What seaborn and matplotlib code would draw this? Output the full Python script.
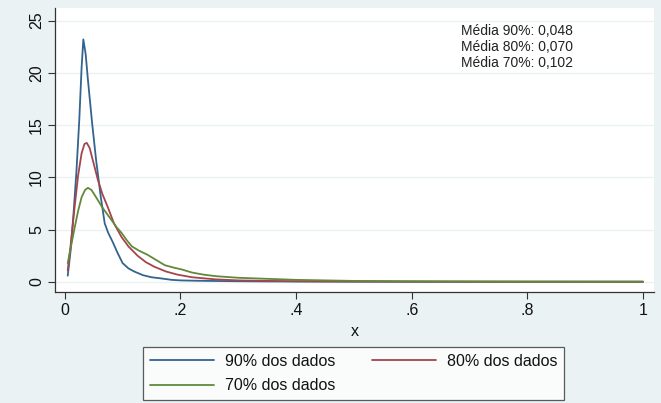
import numpy as np
import pandas as pd
import matplotlib
matplotlib.use("Agg")
import matplotlib.pyplot as plt
import seaborn as sns

# --------------------------------------------------------------
# Data
# --------------------------------------------------------------

series_names = ["90% dos dados", "80% dos dados", "70% dos dados"]
series_colors = ["#33648f", "#a5444c", "#62883b"]

x_90 = [0.005, 0.010, 0.015, 0.020, 0.025, 0.029, 0.032, 0.036, 0.040, 0.047,
        0.054, 0.062, 0.069, 0.075, 0.083, 0.091, 0.100, 0.110, 0.120, 0.135,
        0.150, 0.165, 0.185, 0.200, 0.225, 0.250, 0.300, 0.350, 0.400, 0.500,
        0.600, 0.800, 1.000]
y_90 = [0.6, 3.0, 6.5, 10.5, 15.5, 20.5, 23.2, 21.8, 19.3, 15.3,
        11.7, 8.2, 5.6, 4.7, 3.8, 2.8, 1.8, 1.3, 1.0, 0.65,
        0.45, 0.35, 0.2, 0.15, 0.12, 0.1, 0.07, 0.05, 0.04, 0.03,
        0.02, 0.02, 0.02]

x_80 = [0.005, 0.010, 0.017, 0.023, 0.029, 0.034, 0.038, 0.043, 0.050, 0.057,
        0.065, 0.074, 0.085, 0.098, 0.110, 0.126, 0.140, 0.155, 0.175, 0.195,
        0.220, 0.260, 0.300, 0.350, 0.400, 0.500, 0.600, 0.800, 1.000]
y_80 = [1.1, 3.5, 7.2, 10.2, 12.3, 13.2, 13.3, 12.8, 11.3, 9.8,
        8.4, 7.2, 5.6, 4.3, 3.4, 2.5, 1.9, 1.45, 1.0, 0.7,
        0.45, 0.25, 0.15, 0.1, 0.07, 0.04, 0.03, 0.02, 0.02]

x_70 = [0.005, 0.011, 0.017, 0.023, 0.029, 0.035, 0.040, 0.046, 0.053, 0.064,
        0.073, 0.081, 0.090, 0.098, 0.107, 0.116, 0.128, 0.143, 0.158, 0.173,
        0.190, 0.202, 0.220, 0.240, 0.262, 0.300, 0.350, 0.400, 0.450, 0.500,
        0.600, 0.700, 0.800, 1.000]
y_70 = [1.8, 3.5, 5.2, 6.8, 8.1, 8.8, 9.0, 8.8, 8.2, 7.2,
        6.5, 5.9, 5.2, 4.7, 4.0, 3.4, 3.0, 2.6, 2.1, 1.6,
        1.35, 1.2, 0.9, 0.7, 0.55, 0.4, 0.3, 0.2, 0.15, 0.1,
        0.07, 0.05, 0.04, 0.03]

x_ticks = [0, 0.2, 0.4, 0.6, 0.8, 1.0]
x_tick_labels = ["0", ".2", ".4", ".6", ".8", "1"]
y_ticks = [0, 5, 10, 15, 20, 25]

media_lines = ["Média 90%: 0,048", "Média 80%: 0,070", "Média 70%: 0,102"]

# --------------------------------------------------------------
# Long-form table for seaborn
# --------------------------------------------------------------

df = pd.concat([
    pd.DataFrame({"x": x_90, "y": y_90, "serie": series_names[0]}),
    pd.DataFrame({"x": x_80, "y": y_80, "serie": series_names[1]}),
    pd.DataFrame({"x": x_70, "y": y_70, "serie": series_names[2]}),
], ignore_index=True)

# --------------------------------------------------------------
# Plot
# --------------------------------------------------------------

sns.set_theme(style="white")
plt.rcParams["font.family"] = ["Liberation Sans", "DejaVu Sans"]

bg = "#eaf2f3"
fig = plt.figure(figsize=(6.61, 4.03), dpi=100, facecolor=bg)
W, H = 661, 403
ax = fig.add_axes([55 / W, (H - 292) / H, (654 - 55) / W, (292 - 8) / H])
ax.set_facecolor("white")

sns.lineplot(
    data=df, x="x", y="y", hue="serie", hue_order=series_names,
    palette=series_colors, linewidth=1.3, legend=False, ax=ax,
)

ax.set_xlim(-0.017, 1.019)
ax.set_ylim(-0.96, 26.2)

# horizontal grid like the Stata scheme
for yv in y_ticks:
    ax.axhline(yv, color=bg, linewidth=1.0, zorder=0)

ax.set_xticks(x_ticks)
ax.set_xticklabels(x_tick_labels)
ax.set_yticks(y_ticks)
ax.set_yticklabels([str(v) for v in y_ticks], rotation=90, va="center")
ax.tick_params(axis="both", direction="out", length=5, width=0.8,
               color="#333333", labelsize=11.5, labelcolor="#111111", pad=3)
ax.tick_params(axis="x", bottom=True)
ax.tick_params(axis="y", left=True)

for side in ["top", "right"]:
    ax.spines[side].set_visible(False)
for side in ["left", "bottom"]:
    ax.spines[side].set_color("#333333")
    ax.spines[side].set_linewidth(0.9)

ax.set_xlabel("x", fontsize=11.5, color="#111111", labelpad=4)
ax.set_ylabel("")

ax.text(0.771, 0.944, "\n".join(media_lines), transform=ax.transAxes,
        ha="center", va="top", fontsize=10, color="#222222",
        multialignment="center", linespacing=1.2)

# legend: row-wise order 90, 80 / 70
lines = ax.get_lines()[:3]
handles = [lines[0], lines[2], lines[1]]
labels = [series_names[0], series_names[2], series_names[1]]
leg = fig.legend(
    handles, labels, ncol=2, loc="center",
    bbox_to_anchor=(353.5 / W, 1 - 373.5 / H), bbox_transform=fig.transFigure,
    fontsize=11.5, frameon=True, fancybox=False, handlelength=4.0,
    handletextpad=0.7, columnspacing=2.3, labelspacing=0.6,
    borderpad=0.4,
)
leg.get_frame().set_edgecolor("#333333")
leg.get_frame().set_linewidth(0.9)
leg.get_frame().set_facecolor("white")
for t in leg.get_texts():
    t.set_color("#111111")

fig.savefig("out.png", dpi=100, facecolor=bg)
